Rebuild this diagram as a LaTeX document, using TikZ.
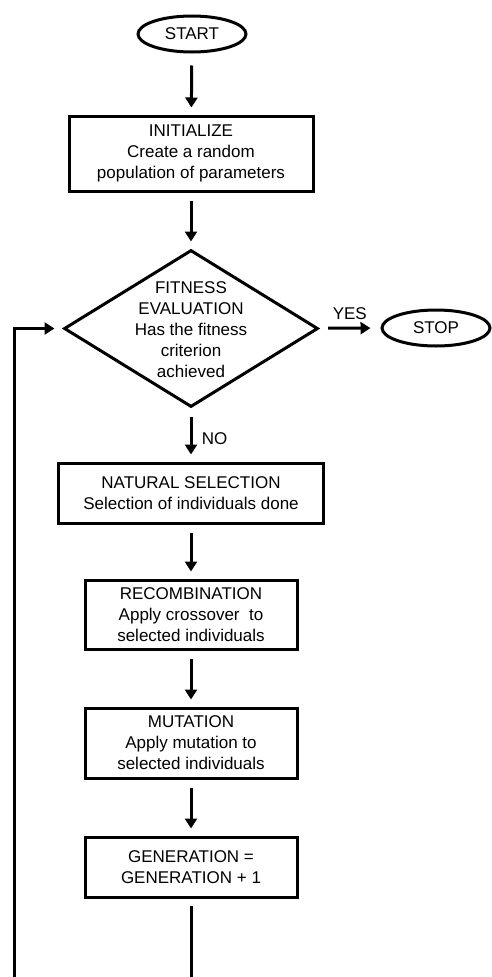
\documentclass[tikz,border=0pt]{standalone}
\usepackage{fontspec}
\setmainfont{Liberation Sans}
\usetikzlibrary{arrows.meta, shapes}

\begin{document}
\begin{tikzpicture}[x=1pt, y=-1pt, line width=3pt,
    every node/.style={font=\fontsize{17}{21}\selectfont},
    term/.style={draw, ellipse, minimum width=108pt, minimum height=36pt, inner sep=0pt},
    proc/.style={draw, rectangle, align=center, inner sep=0pt},
    decision/.style={draw, diamond, minimum width=254pt, minimum height=157pt, inner sep=0pt},
    arr/.style={-{Triangle[length=10pt,width=12pt]}, shorten <=8pt, shorten >=7pt}]
            \useasboundingbox (0,0) rectangle (491,977);
            \node [term] (start) at (192,34) {START};
            \node [proc, minimum width=244pt, minimum height=75pt] (init) at (191,153.5) {INITIALIZE\\Create a random\\population of parameters};
            \node [decision] (fit) at (191,328.5) {};
            \node [align=center] (fittext) at (191,330) {FITNESS\\EVALUATION\\Has the fitness\\criterion\\achieved};
            \node [term] (stop) at (436,328) {STOP};
            \node [proc, minimum width=265pt, minimum height=60pt] (select) at (191,493) {NATURAL SELECTION\\Selection of individuals done};
            \node [proc, minimum width=212pt, minimum height=69pt] (recomb) at (191,614.5) {RECOMBINATION\\Apply crossover\ \ to\\selected individuals};
            \node [proc, minimum width=212pt, minimum height=70pt] (mutate) at (191,743) {MUTATION\\Apply mutation to\\selected individuals};
            \node [proc, minimum width=212pt, minimum height=60pt] (gen) at (191,867) {GENERATION =\\GENERATION + 1};
            \coordinate (genend) at (191,977);
            \coordinate (loopend) at (14,977);

            \draw [arr, shorten <=12pt] (start) -- (init);
            \draw [arr] (init) -- (fit);
            \draw [arr, shorten <=9pt, shorten >=10pt] (fit) -- node [above, yshift=4pt] {YES} (stop);
            \draw [arr] (fit) -- node [right, xshift=6pt, yshift=-4pt] {NO} (select);
            \draw [arr] (select) -- (recomb);
            \draw [arr] (recomb) -- (mutate);
            \draw [arr] (mutate) -- (gen);
            \draw [shorten <=7pt] (gen) -- (genend);
            \draw [arr, shorten <=0pt, shorten >=8pt] (loopend) |- (fit.west);
          \end{tikzpicture}
\end{document}
